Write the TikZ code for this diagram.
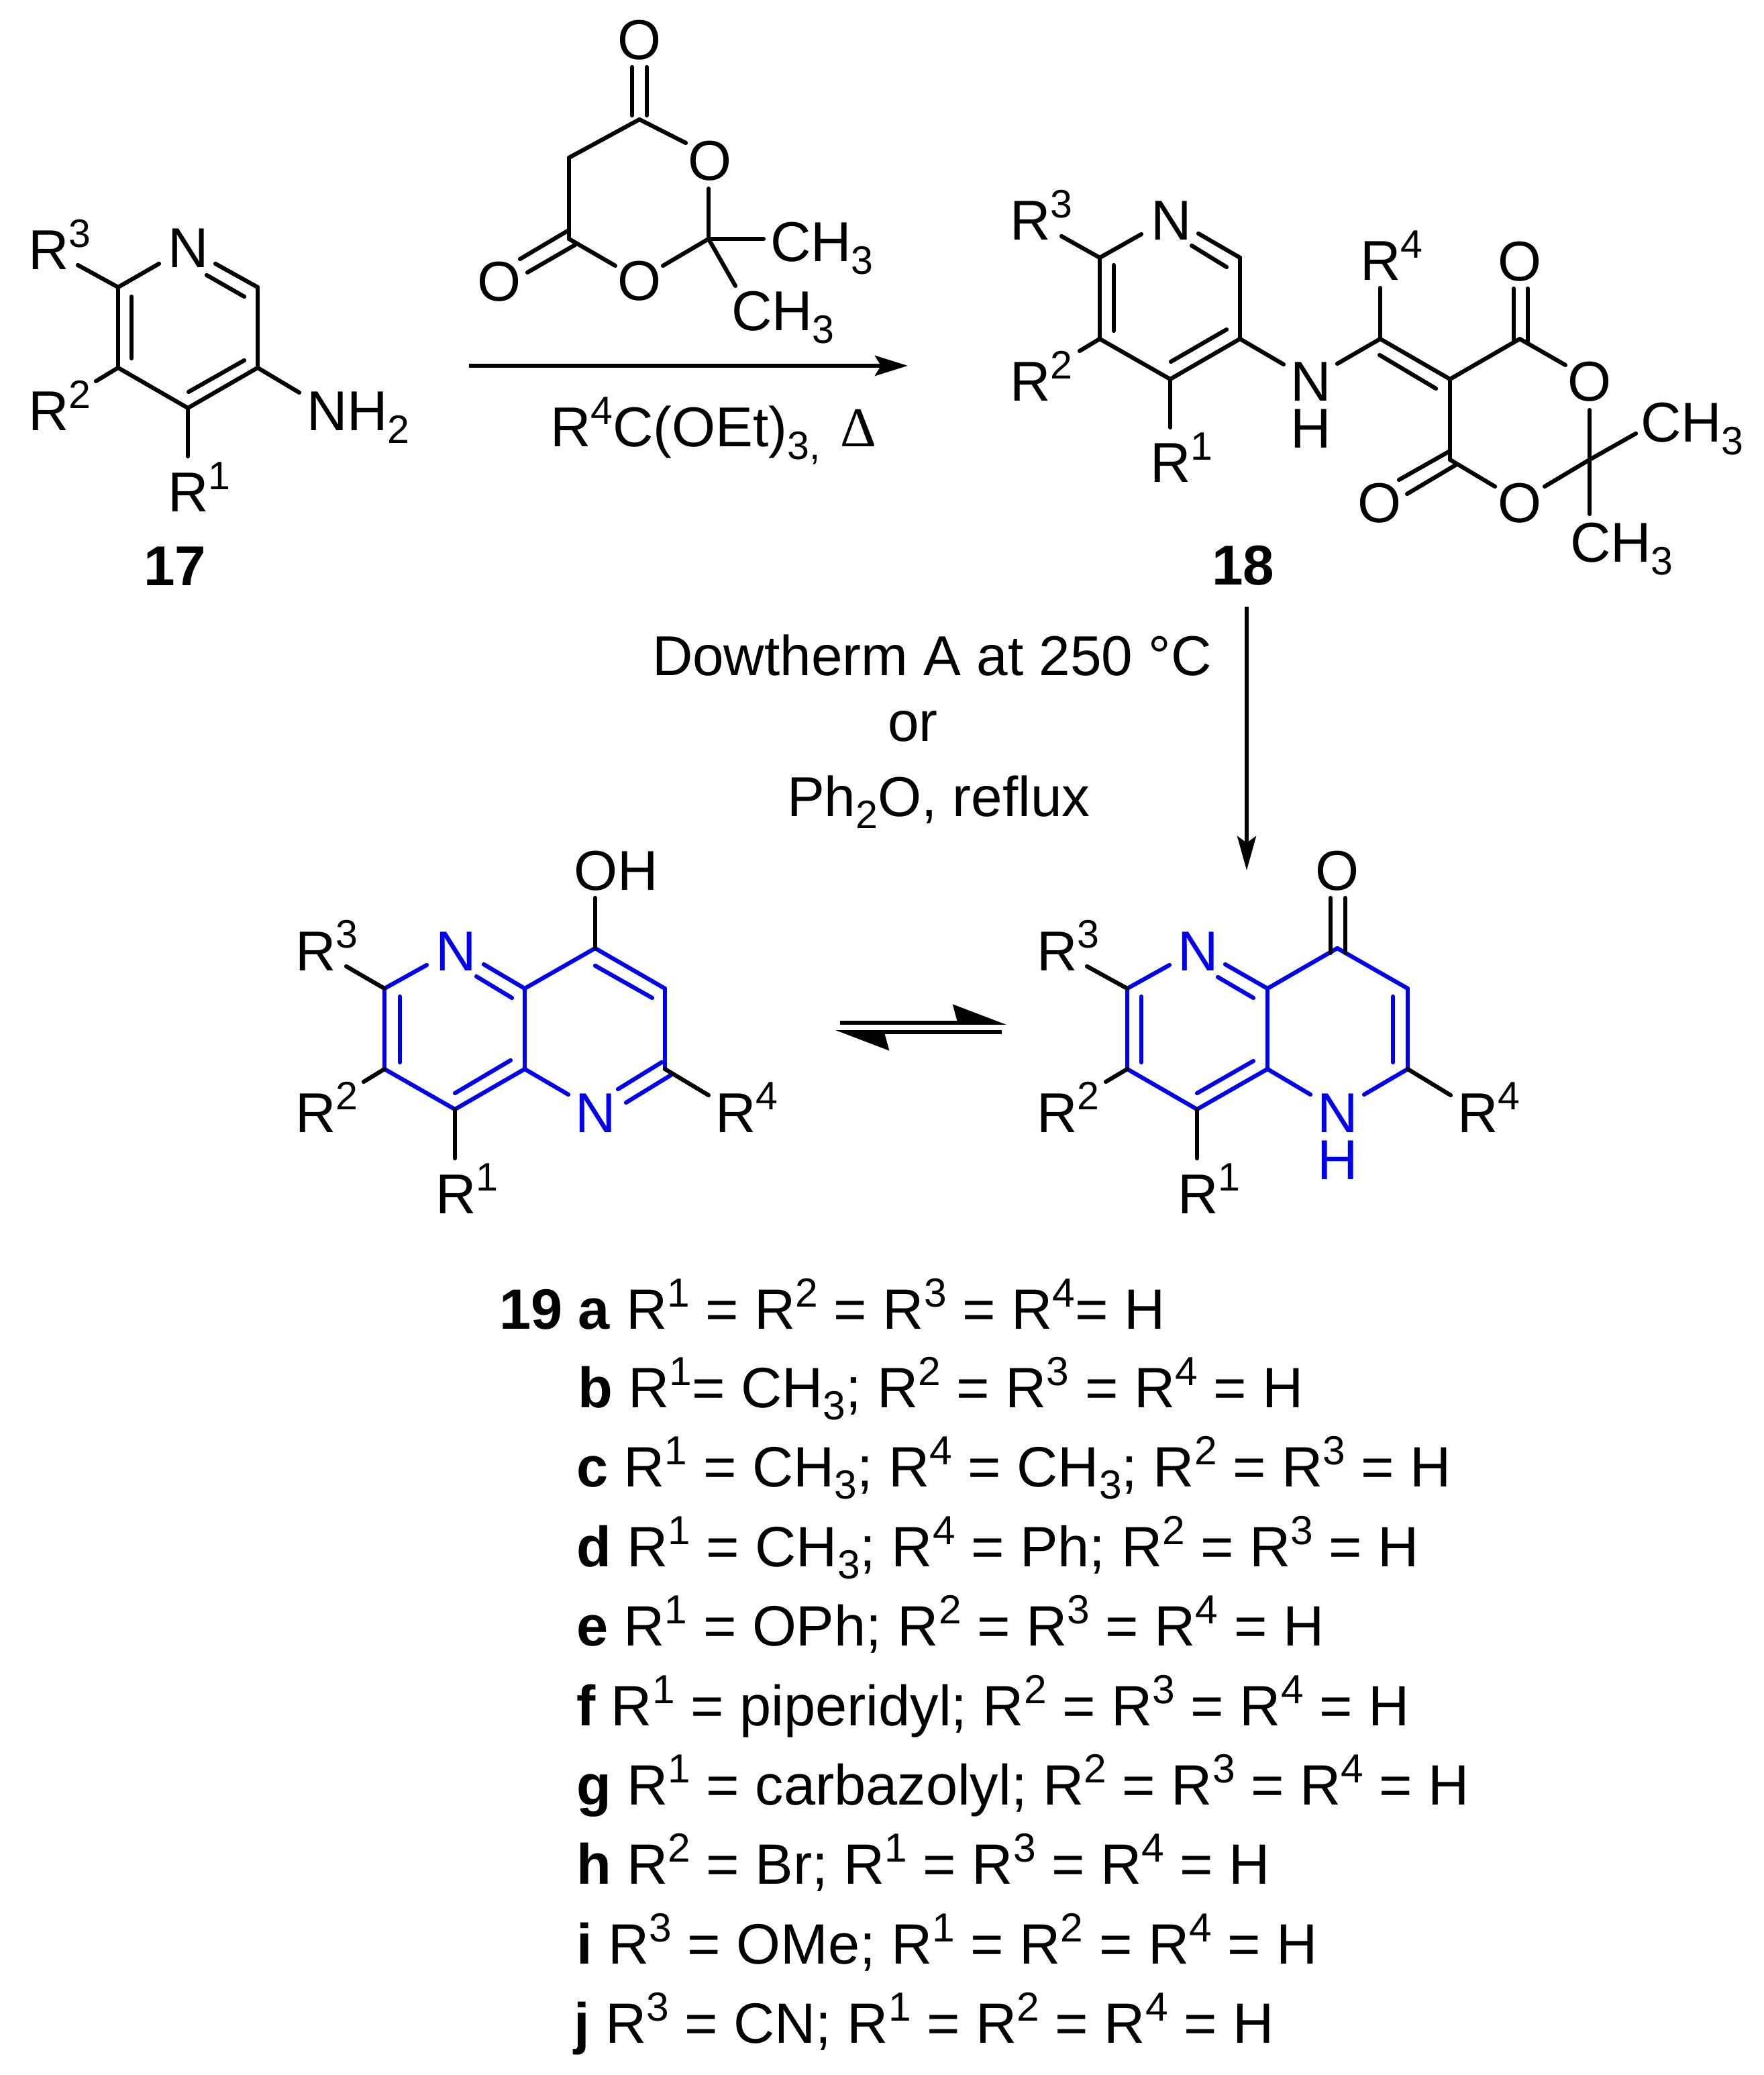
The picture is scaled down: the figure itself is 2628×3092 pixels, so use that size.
\documentclass[tikz,border=0pt]{standalone}
\usepackage{fontspec}
\setmainfont{Liberation Sans}
\newfontfamily\deltafont{Liberation Serif}
\usetikzlibrary{arrows.meta}
\newcommand\supsz{16.8}
\newcommand\supn[1]{\raisebox{0.33cm}{\fontsize{\supsz}{18}\selectfont #1}}
\newcommand\subn[1]{\raisebox{-0.18cm}{\fontsize{\supsz}{18}\selectfont #1}}
\newcommand\Rs[1]{R\supn{#1}}
\newcommand\bb[1]{\textbf{#1}}
\definecolor{ringblue}{RGB}{0,0,240}
\tikzset{
  txt/.style={font=\fontsize{23.8}{28}\selectfont,inner sep=0pt,outer sep=0pt,anchor=base west,text=black},
  bluetxt/.style={txt,text=ringblue},
  listline/.style={txt,font=\fontsize{24.1}{28}\selectfont\renewcommand\supsz{17.2}},
  bond/.style={line width=0.062cm,line cap=round,black},
  bluebond/.style={line width=0.062cm,line cap=round,ringblue},
  rxn/.style={line width=0.062cm,-{Stealth[length=0.49cm,width=0.30cm,inset=0.09cm]}},
  eqm/.style={line width=0.058cm,-{Stealth[harpoon,length=0.72cm,width=0.54cm,inset=0.07cm]}},
}
\begin{document}
\begin{tikzpicture}[x=0.01cm,y=-0.01cm]
\path[use as bounding box,fill=white] (0,0) rectangle (2628,3092);
% coordinates
\foreach \n/\x/\y in {
 a1/176/428,a2/384/428,a3/384/548,a4/280/608,a5/176/548,
 aNa/237/393,aNb/321/393,aIa/308/410,aIb/364/442,aRc/116/395,aRb/143/568,aRa/280/680,aNH/446/585,
 aIc/364/537,aId/281/584,aIe/196/442,aIf/196/534,
 m1/953/178,m2/848/235,m3/848/356,m4/1056/356,
 mOa/942/100,mOb/942/172,mOc/964/100,mOd/964/172,mOe/1022/213,mOf/1056/281,mOg/988/396,mOh/917/396,
 mMa/1138/356,mMb/1096/426,mLa/775/386,mLb/846/344,mLc/786/406,mLd/857/365,
 arA/699/545,arB/1353/545,
 b1/1639/384,b2/1848/384,b3/1848/505,b4/1744/565,b5/1639/505,
 bNa/1701/349,bNb/1786/348,bIa/1776/366,bIb/1828/398,bIc/1660/395,bId/1660/493,
 bRc/1582/352,bRb/1609/523,bRa/1744/637,bIe/1828/491,bIf/1745/539,bNH/1913/543,bNHb/1993/542,
 c1/2057/505,c2/2161/565,c3/2265/505,c4/2369/685,c5/2161/685,
 cRd/2057/429,cIa/2056/529,cIb/2140/579,
 cOa/2256/430,cOb/2256/508,cOc/2277/430,cOd/2277/508,
 cOe/2333/544,cOf/2369/611,cMa/2369/766,cMb/2438/646,cOg/2302/725,cOh/2228/725,
 cLa/2085/715,cLb/2161/672,cLc/2097/736,cLd/2171/692,
 vA/1858/904,vB/1858/1297,
 d1/573/1473,d2/782/1473,d3/887/1413,d4/991/1473,d5/991/1593,d6/782/1593,d7/678/1653,d8/573/1593,
 dNa/636/1438,dNb/721/1437,dIa/710/1455,dIb/763/1487,dIc/887/1439,dId/972/1487,
 dNc/986/1583,dNd/921/1623,dNe/1000/1602,dNf/933/1643,dNg/847/1631,
 dIe/761/1580,dIf/678/1629,dIg/596/1485,dIh/596/1583,
 dRc/516/1440,dRb/542/1612,dRa/678/1726,dRd/1056/1632,dOH/887/1338,
 eqA/1252/1524,eqB/1500/1524,eqC/1493/1538,eqD/1245/1538,
 e1/1680/1473,e2/1889/1473,e3/1993/1413,e4/2098/1473,e5/2098/1593,e6/1889/1593,e7/1784/1653,e8/1680/1593,
 eNa/1743/1438,eNb/1826/1437,eIa/1815/1456,eIb/1868/1487,eIc/2076/1485,eId/2076/1583,
 eNc/2033/1631,eNd/1953/1631,eIe/1868/1581,eIf/1784/1629,eIg/1701/1485,eIh/1701/1583,
 eRc/1620/1440,eRb/1648/1612,eRd/2162/1632,eRa/1784/1726,
 eOa/1983/1338,eOb/1983/1420,eOc/2005/1338,eOd/2005/1420}
 {\coordinate (\n) at (\x,\y);}
% black bonds of upper structures
\foreach \p/\q in {a1/aNa,aNb/a2,aIa/aIb,a2/a3,a3/a4,a4/a5,a5/a1,a1/aRc,a5/aRb,a4/aRa,a3/aNH,aIc/aId,aIe/aIf,
 m1/m2,m2/m3,m3/mOh,mOg/m4,m4/mOf,mOe/m1,mOa/mOb,mOc/mOd,m4/mMa,m4/mMb,mLa/mLb,mLc/mLd,
 b1/bNa,bNb/b2,bIa/bIb,b2/b3,b3/b4,b4/b5,b5/b1,bIc/bId,b1/bRc,b5/bRb,b4/bRa,bIe/bIf,b3/bNH,bNHb/c1,
 c1/cRd,c1/c2,cIa/cIb,c2/c3,cOa/cOb,cOc/cOd,c3/cOe,cOf/c4,c4/cMa,c4/cMb,c4/cOg,cOh/c5,c2/c5,cLa/cLb,cLc/cLd}
 {\draw[bond] (\p)--(\q);}
% blue bonds
\foreach \p/\q in {d1/dNa,dNb/d2,dIa/dIb,d2/d3,d3/d4,dIc/dId,d4/d5,dNc/dNd,dNe/dNf,d6/dNg,d2/d6,d6/d7,dIe/dIf,d7/d8,d8/d1,dIg/dIh,
 e1/eNa,eNb/e2,eIa/eIb,e2/e3,e3/e4,e4/e5,eIc/eId,e5/eNc,e6/eNd,e2/e6,e6/e7,eIe/eIf,e7/e8,e8/e1,eIg/eIh}
 {\draw[bluebond] (\p)--(\q);}
% black substituent bonds
\foreach \p/\q in {d1/dRc,d8/dRb,d7/dRa,d5/dRd,d3/dOH,e1/eRc,e8/eRb,e5/eRd,e7/eRa,eOa/eOb,eOc/eOd}
 {\draw[bond] (\p)--(\q);}
% arrows
\draw[rxn] (arA)--(arB);
\draw[line width=0.058cm,-{Stealth[length=0.51cm,width=0.28cm,inset=0.10cm]}] (vA)--(vB);
\draw[eqm] (eqA)--(eqB);
\draw[eqm] (eqC)--(eqD);
% compound 17
\node[txt] (t17a) at (42,402) {\Rs{3}};
\node[txt] (t17b) at (250,399) {N};
\node[txt] (t17c) at (42,642) {\Rs{2}};
\node[txt] (t17d) at (457,642) {NH\subn{2}};
\node[txt] (t17e) at (250,763) {\Rs{1}};
\node[txt] (t17f) at (214,873) {\bb{17}};
% reagent
\node[txt] (tma) at (920,89) {O};
\node[txt] (tmb) at (1025,269) {O};
\node[txt] (tmc) at (920,448) {O};
\node[txt] (tmd) at (711,449) {O};
\node[txt] (tme) at (1148,390) {CH\subn{3}};
\node[txt] (tmf) at (1090,493) {CH\subn{3}};
\node[txt] (trg) at (820,666) {\Rs{4}C(OEt)\subn{3,}};
\node[txt] (tdl) at (1252,666) {\deltafont Δ};
% compound 18
\node[txt] (t18a) at (1505,358) {\Rs{3}};
\node[txt] (t18b) at (1715,358) {N};
\node[txt] (t18c) at (1505,598) {\Rs{2}};
\node[txt] (t18d) at (1714,719) {\Rs{1}};
\node[txt] (t18e) at (1923,598) {N};
\node[txt] (t18f) at (1923,668) {H};
\node[txt] (t18g) at (2027,418) {\Rs{4}};
\node[txt] (t18h) at (2232,419) {O};
\node[txt] (t18i) at (2336,598) {O};
\node[txt] (t18j) at (2445,659) {CH\subn{3}};
\node[txt] (t18k) at (2232,779) {O};
\node[txt] (t18l) at (2023,779) {O};
\node[txt] (t18m) at (2340,838) {CH\subn{3}};
\node[txt] (t18n) at (1806,872) {\bb{18}};
% conditions
\node[txt] (tca) at (972,1006) {Dowtherm A at 250 °C};
\node[txt] (tcb) at (1323,1104) {or};
\node[txt] (tcc) at (1173,1216) {Ph\subn{2}O, reflux};
% left tautomer
\node[txt] (tda) at (855,1326) {OH};
\node[txt] (tdb) at (440,1446) {\Rs{3}};
\node[bluetxt] (tdc) at (649,1446) {N};
\node[txt] (tdd) at (440,1687) {\Rs{2}};
\node[bluetxt] (tde) at (857,1687) {N};
\node[txt] (tdf) at (649,1808) {\Rs{1}};
\node[txt] (tdg) at (1066,1687) {\Rs{4}};
% right tautomer
\node[txt] (tea) at (1960,1326) {O};
\node[txt] (teb) at (1545,1446) {\Rs{3}};
\node[bluetxt] (tec) at (1755,1446) {N};
\node[txt] (ted) at (1545,1687) {\Rs{2}};
\node[bluetxt] (tee) at (1963,1687) {N};
\node[bluetxt] (tef) at (1963,1757) {H};
\node[txt] (teg) at (1755,1808) {\Rs{1}};
\node[txt] (teh) at (2172,1687) {\Rs{4}};
% list
\node[listline] (la) at (744,1980) {\bb{19 a} \Rs{1} = \Rs{2} = \Rs{3} = \Rs{4}= H};
\node[listline] (lb) at (861,2097) {\bb{b} \Rs{1}= CH\subn{3}; \Rs{2} = \Rs{3} = \Rs{4} = H};
\node[listline] (lc) at (859,2215) {\bb{c} \Rs{1} = CH\subn{3}; \Rs{4} = CH\subn{3}; \Rs{2} = \Rs{3} = H};
\node[listline] (ld) at (859,2334) {\bb{d} \Rs{1} = CH\subn{3}; \Rs{4} = Ph; \Rs{2} = \Rs{3} = H};
\node[listline] (le) at (859,2452) {\bb{e} \Rs{1} = OPh; \Rs{2} = \Rs{3} = \Rs{4} = H};
\node[listline] (lf) at (859,2571) {\bb{f} \Rs{1} = piperidyl; \Rs{2} = \Rs{3} = \Rs{4} = H};
\node[listline] (lg) at (859,2689) {\bb{g} \Rs{1} = carbazolyl; \Rs{2} = \Rs{3} = \Rs{4} = H};
\node[listline] (lh) at (859,2807) {\bb{h} \Rs{2} = Br; \Rs{1} = \Rs{3} = \Rs{4} = H};
\node[listline] (li) at (859,2926) {\bb{i} \Rs{3} = OMe; \Rs{1} = \Rs{2} = \Rs{4} = H};
\node[listline] (lj) at (855,3044) {\bb{j} \Rs{3} = CN; \Rs{1} = \Rs{2} = \Rs{4} = H};
\end{tikzpicture}
\end{document}
